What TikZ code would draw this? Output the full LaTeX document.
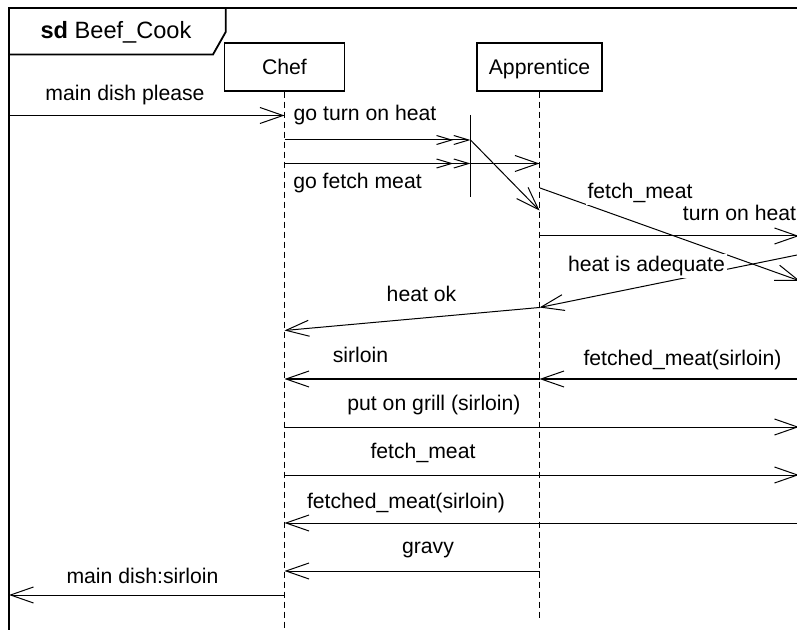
\documentclass[tikz,border=0pt]{standalone}
\usepackage{fontspec}
\setmainfont{Liberation Sans}
\usetikzlibrary{arrows.meta}
\begin{document}
\begin{tikzpicture}[x=0.5pt,y=-0.5pt,
  msgfont/.style={font=\fontsize{10.6}{12}\selectfont},
  lifebox/.style={draw,line width=0.55pt,fill=white,minimum height=24pt,
    inner sep=0pt,text height=7.4pt,text depth=0pt,msgfont},
  lifeline/.style={line width=0.5pt,dash pattern=on 3pt off 2pt},
  msg/.style={line width=0.5pt,-{Straight Barb[length=11.5pt,width=8pt]}},
  gatemsg/.style={line width=0.5pt,
    -{Straight Barb[length=7.5pt,width=4.5pt,sep=0pt]Straight Barb[length=7.5pt,width=4.5pt]}},
  msglabel/.style={msgfont,anchor=base,fill=white,inner sep=1pt},
  framestyle/.style={line width=0.9pt}]

% canvas
\useasboundingbox (0,0) rectangle (797,630);
\fill[white] (0,0) rectangle (797,630);
\clip (0,0) rectangle (797,630);

% interaction frame and its name tab
\draw[framestyle] (9,650) -- (9,8) -- (820,8);
\draw[framestyle] (9,54.5) -- (213,54.5) -- (225.7,32) -- (225.7,8);
\node[anchor=base,inner sep=0pt,font=\fontsize{11.8}{14}\selectfont] (title) at (116,38.3)
  {\textbf{sd} Beef\_Cook};

% lifelines
\node[lifebox,minimum width=60pt] (chef) at (284.5,67) {Chef};
\node[lifebox,minimum width=62.5pt] (appr) at (539.5,67) {Apprentice};
\coordinate (chefend) at (284.5,640);
\coordinate (apprend) at (539.5,620);
\draw[lifeline] (chef.south) -- (chefend);
\draw[lifeline] (appr.south) -- (apprend);

% gate on the Chef -> Apprentice messages
\coordinate (gtop) at (470.5,115);
\coordinate (gbot) at (470.5,197);
\draw[line width=0.5pt] (gtop) -- (gbot);

% message end points
\coordinate (inL)   at (9,115.5);
\coordinate (inC)   at (284.5,115.5);
\coordinate (g1C)   at (284.5,140);
\coordinate (g1G)   at (470.5,140);
\coordinate (g2C)   at (284.5,163.5);
\coordinate (g2G)   at (470.5,163.5);
\coordinate (g2A)   at (539.5,163.5);
\coordinate (g1A)   at (539.5,210.5);
\coordinate (fmA)   at (540,188);
\coordinate (fmR)   at (800,281);
\coordinate (tohA)  at (539.5,236);
\coordinate (tohR)  at (799,236);
\coordinate (hiaR)  at (800,254.4);
\coordinate (hiaA)  at (539.5,307.5);
\coordinate (hokC)  at (284.5,330.5);
\coordinate (fsR)   at (799,379);
\coordinate (fsA)   at (539.5,379);
\coordinate (sC)    at (284.5,379);
\coordinate (pgC)   at (284.5,427);
\coordinate (pgR)   at (799,427);
\coordinate (fm2C)  at (284.5,475);
\coordinate (fm2R)  at (799,475);
\coordinate (fs2R)  at (799,523);
\coordinate (fs2C)  at (284.5,523);
\coordinate (grA)   at (539.5,571);
\coordinate (grC)   at (284.5,571);
\coordinate (mdC)   at (284.5,595);
\coordinate (mdL)   at (9,595);

% messages
\draw[msg] (inL) -- (inC);
\draw[gatemsg] (g1C) -- (g1G);
\draw[gatemsg] (g2C) -- (g2G);
\draw[msg] (g2G) -- (g2A);
\draw[msg] (g1G) -- (g1A);
\draw[msg] (fmA) -- (fmR);
\draw[msg] (tohA) -- (tohR);
\draw[msg] (hiaR) -- (hiaA);
\draw[msg] (hiaA) -- (hokC);
\draw[msg] (fsR) -- (fsA);
\draw[msg] (fsA) -- (sC);
\draw[msg] (pgC) -- (pgR);
\draw[msg] (fm2C) -- (fm2R);
\draw[msg] (fs2R) -- (fs2C);
\draw[msg] (grA) -- (grC);
\draw[msg] (mdC) -- (mdL);

% message labels
\node[msglabel] (l1)  at (125,100.5)   {main dish please};
\node[msglabel] (l2)  at (365,121)     {go turn on heat};
\node[msglabel] (l3)  at (357.5,189)   {go fetch meat};
\node[msglabel] (l4)  at (640,199)     {fetch\_meat};
\node[msglabel] (l5)  at (739.5,221)   {turn on heat};
\node[msglabel] (l6)  at (646.5,271.5) {heat is adequate};
\node[msglabel] (l7)  at (421.5,301.5) {heat ok};
\node[msglabel] (l8)  at (360.5,363)   {sirloin};
\node[msglabel] (l9)  at (682.5,365.5) {fetched\_meat(sirloin)};
\node[msglabel] (l10) at (434,410.5)   {put on grill (sirloin)};
\node[msglabel] (l11) at (423,458.3)   {fetch\_meat};
\node[msglabel] (l12) at (406,508)     {fetched\_meat(sirloin)};
\node[msglabel] (l13) at (428,553)     {gravy};
\node[msglabel] (l14) at (142.5,583.3) {main dish:sirloin};
\end{tikzpicture}
\end{document}
